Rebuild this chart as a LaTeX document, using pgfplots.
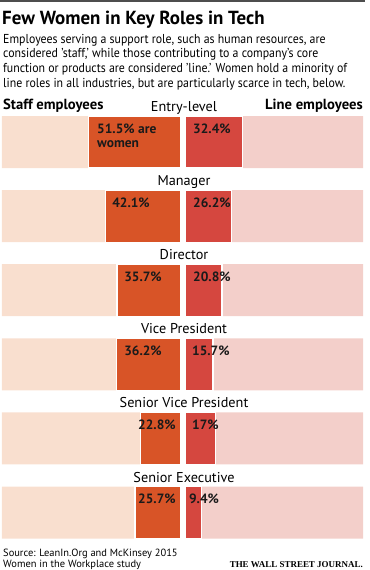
\documentclass[border=0pt]{standalone}
\usepackage{pgfplots}
\usepackage{pgfplotstable}
\pgfplotsset{compat=1.18}
\usepackage{fontspec}
\setmainfont{PT Sans}
\newfontfamily\bodyfont{PT Sans}[FakeStretch=0.915, Ligatures=TeX]
\newfontfamily\wsjfont{Liberation Serif}
\definecolor{staffL}{HTML}{F9DFCF}
\definecolor{staffD}{HTML}{D85427}
\definecolor{lineD}{HTML}{D5473F}
\definecolor{lineL}{HTML}{F3CFCA}
\definecolor{txt}{HTML}{1A1A1A}
\definecolor{rulec}{HTML}{4D4D4D}

\pgfplotstableread{
row staff line
0 51.5 32.4
1 42.1 26.2
2 35.7 20.8
3 36.2 15.7
4 22.8 17.0
5 25.7 9.4
}\data

\pgfplotsset{
  panel/.style={
    scale only axis, height=422.5bp,
    ymin=-0.351, ymax=5.351, y dir=reverse,
    xmin=0, xmax=100,
    axis line style={draw=none}, tick style={draw=none},
    xtick=\empty, clip=false,
  },
  lab/.style={
    draw=none, mark=none, nodes near coords, point meta=explicit symbolic,
    nodes near coords style={anchor=north west, inner sep=0pt, yshift=18.5bp,
      align=left, text=txt, font=\fontsize{13.5}{14.3}\selectfont\bfseries},
  },
}

\begin{document}
\begin{tikzpicture}[x=1bp,y=1bp]
\useasboundingbox (0,0) rectangle (369,-570);
\fill[rulec] (0,0) rectangle (365,-1.6);
\node[anchor=base west, inner sep=0pt, font=\fontsize{19}{19}\selectfont\bfseries] at (2,-25) {Few Women in Key Roles in Tech};
\begin{scope}[every node/.style={anchor=base west, inner sep=0pt, font=\bodyfont\fontsize{13}{14.7}\selectfont}]
\node at (3,-43.3) {Employees serving a support role, such as human resources, are};
\node at (3,-58.0) {considered ’staff,’ while those contributing to a company’s core};
\node at (3,-72.7) {function or products are considered ’line.’ Women hold a minority of};
\node at (3,-87.4) {line roles in all industries, but are particularly scarce in tech, below.};
\end{scope}
\node[anchor=base west, inner sep=0pt, font=\fontsize{14.7}{14.7}\selectfont\bfseries] at (3,-110) {Staff employees};
\node[anchor=base east, inner sep=0pt, font=\fontsize{14.7}{14.7}\selectfont\bfseries] at (363,-110) {Line employees};

\begin{axis}[panel, at={(2bp,-116bp)}, anchor=north west, width=179bp, x dir=reverse, ytick=\empty]
\addplot[xbar, bar width=52bp, bar shift=0pt, fill=staffL, draw=none] coordinates {(100,0) (100,1) (100,2) (100,3) (100,4) (100,5)};
\addplot[xbar, bar width=52bp, bar shift=0pt, fill=staffD, draw=white, line width=1.2bp] table[x=staff, y=row] {\data};
\addplot[lab] coordinates {(46.9,0) [51.5\% are\\women] (38.5,1) [42.1\%] (31.8,2) [35.7\%] (31.8,3) [36.2\%] (24.0,4) [22.8\%] (24.0,5) [25.7\%]};
\end{axis}

\begin{axis}[panel, at={(185bp,-116bp)}, anchor=north west, width=178bp,
  ytick={0,1,2,3,4,5},
  yticklabels={Entry-level, Manager, Director, Vice President, Senior Vice President, Senior Executive},
  yticklabel style={anchor=base, inner sep=0pt, xshift=-1bp, yshift=30.5bp, font=\fontsize{14.3}{14.3}\selectfont}]
\addplot[xbar, bar width=52bp, bar shift=0pt, fill=lineL, draw=none] coordinates {(100,0) (100,1) (100,2) (100,3) (100,4) (100,5)};
\addplot[xbar, bar width=52bp, bar shift=0pt, fill=lineD, draw=white, line width=1.2bp] table[x=line, y=row] {\data};
\addplot[lab] coordinates {(4.5,0) [32.4\%] (4.5,1) [26.2\%] (4.5,2) [20.8\%] (3.9,3) [15.7\%] (3.9,4) [17\%] (2.2,5) [9.4\%]};
\end{axis}

\begin{scope}[every node/.style={anchor=base west, inner sep=0pt, font=\fontsize{10.5}{10.5}\selectfont}]
\node at (3,-556.7) {Source: LeanIn.Org and McKinsey 2015};
\node at (3,-567.7) {Women in the Workplace study};
\end{scope}
\node[anchor=base east, inner sep=0pt, font=\wsjfont\bfseries\fontsize{9}{9}\selectfont] at (363,-567.7) {THE WALL STREET JOURNAL.};
\end{tikzpicture}
\end{document}
